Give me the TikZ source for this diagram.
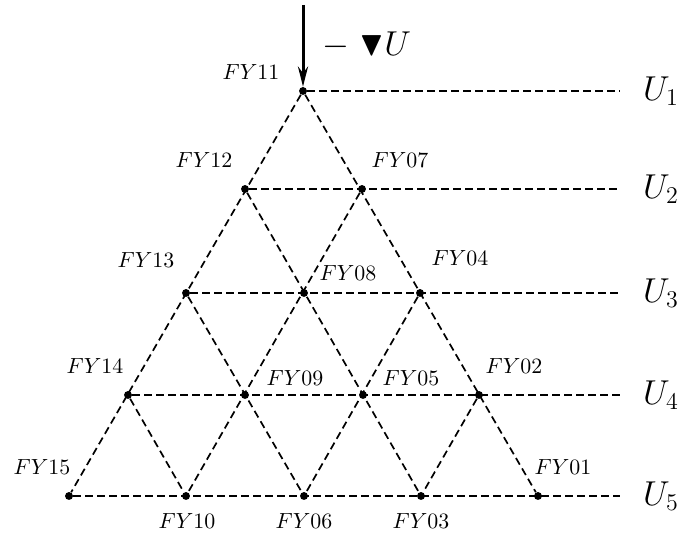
\documentclass[tikz,border=0pt]{standalone}
\usepackage{amsmath,amssymb}
\usetikzlibrary{arrows.meta,calc}

\begin{document}
\begin{tikzpicture}[x=0.5pt, y=-0.5pt,
  dot/.style={circle, fill=black, inner sep=1.4pt},
  grid/.style={line width=0.85pt, dash pattern=on 3.8pt off 2.2pt},
  lbl/.style={font=\fontsize{11pt}{13pt}\selectfont, inner sep=1pt},
  ulbl/.style={font=\LARGE, inner sep=1pt}]
  \useasboundingbox (0,0) rectangle (681,533);
  % lattice points, top row to bottom row
  \node[dot] (fy11) at (303,91) {};

  \node[dot] (fy12) at (245,189) {};
  \node[dot] (fy07) at (362,189) {};

  \node[dot] (fy13) at (186,293) {};
  \node[dot] (fy08) at (304,293) {};
  \node[dot] (fy04) at (420,293) {};

  \node[dot] (fy14) at (128,395) {};
  \node[dot] (fy09) at (245,395) {};
  \node[dot] (fy05) at (363,395) {};
  \node[dot] (fy02) at (479,395) {};

  \node[dot] (fy15) at (69,496) {};
  \node[dot] (fy10) at (186,496) {};
  \node[dot] (fy06) at (304,496) {};
  \node[dot] (fy03) at (421,496) {};
  \node[dot] (fy01) at (538,496) {};

  % point labels
  \node[lbl] (l11) at (251,72) {$FY11$};
  \node[lbl] (l12) at (204,160) {$FY12$};
  \node[lbl] (l07) at (400,160) {$FY07$};
  \node[lbl] (l13) at (146,260) {$FY13$};
  \node[lbl] (l08) at (348,273) {$FY08$};
  \node[lbl] (l04) at (460,258) {$FY04$};
  \node[lbl] (l14) at (95,366) {$FY14$};
  \node[lbl] (l09) at (295,378) {$FY09$};
  \node[lbl] (l05) at (411,378) {$FY05$};
  \node[lbl] (l02) at (514,366) {$FY02$};
  \node[lbl] (l15) at (42,467) {$FY15$};
  \node[lbl] (l01) at (563,467) {$FY01$};
  \node[lbl] (l10) at (187,521) {$FY10$};
  \node[lbl] (l06) at (304,521) {$FY06$};
  \node[lbl] (l03) at (421,521) {$FY03$};

  % levels
  \node[ulbl] (u1) at (661,91) {$U_1$};
  \node[ulbl] (u2) at (661,189) {$U_2$};
  \node[ulbl] (u3) at (661,293) {$U_3$};
  \node[ulbl] (u4) at (661,395) {$U_4$};
  \node[ulbl] (u5) at (661,496) {$U_5$};
  \coordinate (r1) at (620,91);
  \coordinate (r2) at (620,189);
  \coordinate (r3) at (620,293);
  \coordinate (r4) at (620,395);
  \coordinate (r5) at (620,496);

  % gradient arrow
  \coordinate (in) at (303,5);
  \node[ulbl] (grad) at (367,45) {$-\;\blacktriangledown U$};
  \draw[line width=1.5pt, -{Stealth[length=10pt,width=5pt]}] (in) -- (fy11);

  % horizontal dashed rows
  \draw[grid] (fy11) -- (r1);
  \draw[grid] (fy12) -- (r2);
  \draw[grid] (fy13) -- (r3);
  \draw[grid] (fy14) -- (r4);
  \draw[grid] (fy15) -- (r5);

  % slanted dashed lines
  \draw[grid] (fy11) -- (fy15);
  \draw[grid] (fy11) -- (fy01);
  \draw[grid] (fy07) -- (fy10);
  \draw[grid] (fy12) -- (fy03);
  \draw[grid] (fy04) -- (fy06);
  \draw[grid] (fy13) -- (fy06);
  \draw[grid] (fy02) -- (fy03);
  \draw[grid] (fy14) -- (fy10);
\end{tikzpicture}
\end{document}
